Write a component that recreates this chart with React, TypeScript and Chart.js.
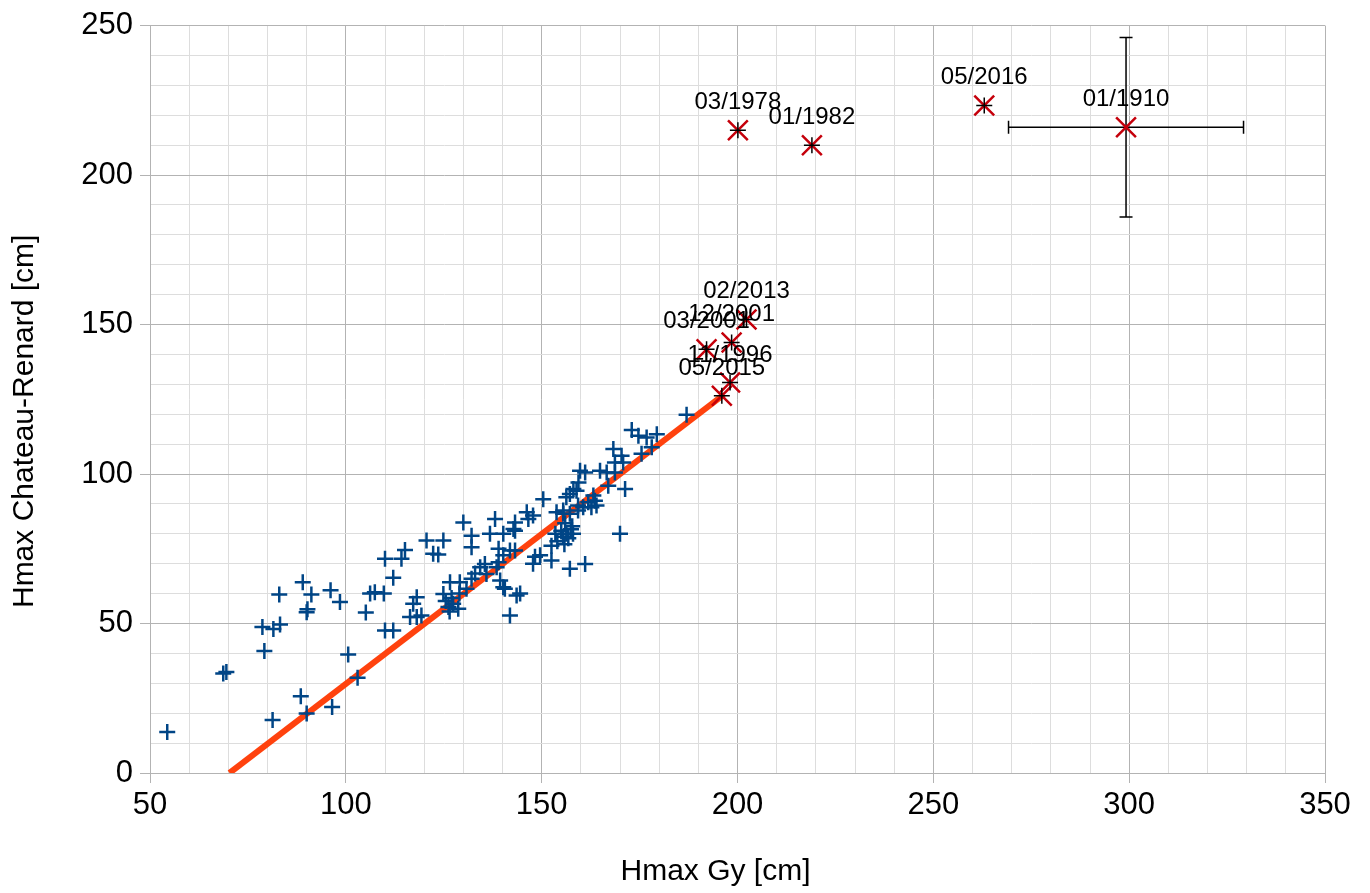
import React, { useEffect, useRef } from "react";
import { Chart, registerables } from "chart.js";

Chart.register(...registerables);

// Blue series: Hmax Gy vs Hmax Chateau-Renard
const gyValues = [
  54.4, 68.7, 69.5, 79.2, 78.7, 81.5, 83.2, 83.0, 81.3, 89.0, 91.2, 90.0, 90.2, 88.5, 90.0,
  96.1, 98.5, 96.5, 100.6, 103.0, 105.1, 106.2, 107.4, 109.7, 110.0, 112.1, 112.1, 110.0, 114.2,
  115.1, 120.6, 124.9, 122.3, 123.6, 130.0, 132.1, 132.1, 138.1, 136.8, 140.2, 139.0, 118.1,
  117.2, 116.4, 118.1, 119.3, 124.9, 126.6, 129.1, 126.2, 127.4, 128.7, 130.8, 132.1, 134.3,
  135.5, 135.9, 138.5, 139.4, 140.6, 139.0, 150.4, 146.2, 147.8, 143.2, 143.2, 141.9, 143.2,
  148.3, 149.6, 152.5, 157.2, 161.1, 141.9, 143.6, 144.5, 140.2, 133.0, 125.5, 127.0, 126.5,
  129.0, 187.0, 173.0, 174.7, 176.8, 179.4, 178.1, 175.5, 168.3, 170.4, 168.7, 170.8, 164.9,
  166.6, 168.7, 167.0, 171.3, 170.0, 159.8, 161.1, 159.4, 158.1, 158.9, 157.2, 156.3, 163.2,
  163.6, 164.0, 162.7, 161.9, 160.6, 159.3, 157.2, 155.5, 146.6, 142.8, 153.5, 155.0, 156.3,
  157.5, 155.5, 156.8, 158.0, 154.0, 155.8, 157.8, 152.5, 156.0, 147.8, 140.2, 153.8, 155.5,
  159.3,
];
const crValues = [
  13.7, 33.3, 33.8, 40.8, 48.8, 48.2, 49.7, 59.7, 17.7, 63.8, 59.7, 53.8, 54.8, 25.7, 19.9,
  61.1, 57.2, 22.1, 39.6, 31.9, 53.7, 60.0, 60.5, 60.0, 47.7, 47.7, 65.3, 71.7, 71.7,
  74.6, 77.8, 77.8, 73.3, 73.1, 83.8, 79.4, 75.5, 85.0, 80.0, 80.0, 75.0, 58.8,
  56.6, 52.2, 52.2, 52.7, 59.9, 63.8, 63.8, 55.5, 56.6, 54.9, 61.6, 65.0, 68.8,
  69.9, 66.6, 68.8, 64.4, 61.6, 70.5, 91.6, 87.2, 86.1, 83.8, 81.0, 74.4, 74.4,
  72.3, 72.8, 71.1, 68.3, 69.9, 52.7, 59.4, 60.0, 62.1, 66.7, 57.5, 58.5, 54.0,
  60.0, 119.8, 114.7, 112.8, 112.2, 113.3, 109.0, 106.8, 108.4, 106.1, 103.9, 103.9, 101.1,
  100.5, 100.5, 96.1, 95.0, 80.0, 101.1, 100.5, 97.2, 95.0, 94.4, 93.3, 92.2, 92.8,
  91.1, 89.5, 88.9, 90.6, 88.9, 87.8, 86.7, 87.8, 85.0, 81.6, 80.0, 81.0, 80.0,
  81.5, 79.0, 78.5, 80.0, 77.5, 76.5, 82.5, 76.0, 83.5, 70.0, 72.8, 87.2, 86.7,
  89.5,
];

// Named flood events
const eventLabels = ["03/1978", "01/1982", "05/2016", "01/1910", "02/2013", "12/2001", "03/2001", "11/1996", "05/2015"];
const eventGy = [200.1, 219.0, 263.0, 299.2, 202.3, 198.5, 192.1, 198.1, 196.0];
const eventCr = [215.0, 210.0, 223.3, 216.0, 151.7, 144.0, 141.7, 130.6, 126.2];
const eventErrGy = [0, 0, 0, 30, 0, 0, 0, 0, 0];
const eventErrCr = [0, 0, 0, 30, 0, 0, 0, 0, 0];

// Regression line
const fitGy = [70.3, 196.5];
const fitCr = [0, 126.6];

const xTicks = [50, 100, 150, 200, 250, 300, 350];
const yTicks = [0, 50, 100, 150, 200, 250];
const xTitle = "Hmax Gy [cm]";
const yTitle = "Hmax Chateau-Renard [cm]";

const FONT = "'Liberation Sans', Arial, sans-serif";
const MAJOR = "#b3b3b3";
const MINOR = "#dddddd";

const annotPlugin = {
  id: "annot",
  beforeDatasetsDraw(chart: any) {
    const { ctx, scales } = chart;
    const x = scales.x, y = scales.y;
    ctx.save();
    ctx.strokeStyle = "#000000";
    ctx.lineWidth = 1.5;
    eventLabels.forEach((_, i) => {
      const px = x.getPixelForValue(eventGy[i]);
      const py = y.getPixelForValue(eventCr[i]);
      const cap = 6.5;
      if (eventErrGy[i] > 0) {
        const x1 = x.getPixelForValue(eventGy[i] - eventErrGy[i]);
        const x2 = x.getPixelForValue(eventGy[i] + eventErrGy[i]);
        ctx.beginPath();
        ctx.moveTo(x1, py); ctx.lineTo(x2, py);
        ctx.moveTo(x1, py - cap); ctx.lineTo(x1, py + cap);
        ctx.moveTo(x2, py - cap); ctx.lineTo(x2, py + cap);
        ctx.stroke();
      }
      if (eventErrCr[i] > 0) {
        const y1 = y.getPixelForValue(eventCr[i] - eventErrCr[i]);
        const y2 = y.getPixelForValue(eventCr[i] + eventErrCr[i]);
        ctx.beginPath();
        ctx.moveTo(px, y1); ctx.lineTo(px, y2);
        ctx.moveTo(px - cap, y1); ctx.lineTo(px + cap, y1);
        ctx.moveTo(px - cap, y2); ctx.lineTo(px + cap, y2);
        ctx.stroke();
      }
    });
    ctx.restore();
  },
  afterDatasetsDraw(chart: any) {
    const { ctx, scales, chartArea } = chart;
    const x = scales.x, y = scales.y;
    ctx.save();
    ctx.fillStyle = "#000000";
    ctx.font = `24px ${FONT}`;
    ctx.textAlign = "center";
    ctx.textBaseline = "alphabetic";
    eventLabels.forEach((lab, i) => {
      const px = x.getPixelForValue(eventGy[i]);
      const py = y.getPixelForValue(eventCr[i]);
      ctx.fillText(lab, px, py - 21);
    });
    // axis titles (centred on the whole diagram, like the original)
    ctx.font = `30px ${FONT}`;
    ctx.textBaseline = "middle";
    const cx = (chartArea.left + chartArea.right) / 2 - 22;
    ctx.fillText(xTitle, cx, 872);
    const cy = (chartArea.top + chartArea.bottom) / 2 + 22;
    ctx.translate(25, cy);
    ctx.rotate(-Math.PI / 2);
    ctx.fillText(yTitle, 0, 0);
    ctx.restore();
  },
};

export default function App() {
  const ref = useRef<HTMLCanvasElement | null>(null);
  useEffect(() => {
    if (!ref.current) return;
    const isMajorX = (v: number) => xTicks.includes(v);
    const isMajorY = (v: number) => yTicks.includes(v);
    const chart = new Chart(ref.current, {
      type: "scatter",
      data: {
        datasets: [
          {
            label: "black",
            data: eventGy.map((g, i) => ({ x: g, y: eventCr[i] })).filter((_, i) => eventErrGy[i] === 0),
            pointStyle: "cross",
            pointRadius: 8,
            borderColor: "#000000",
            backgroundColor: "#000000",
            borderWidth: 1.5,
            order: 1,
          },
          {
            label: "events",
            data: eventGy.map((g, i) => ({ x: g, y: eventCr[i] })),
            pointStyle: "crossRot",
            pointRadius: 14,
            borderColor: "#c5000b",
            backgroundColor: "#c5000b",
            borderWidth: 2.5,
            order: 2,
          },
          {
            label: "data",
            data: gyValues.map((g, i) => ({ x: g, y: crValues[i] })),
            pointStyle: "cross",
            pointRadius: 8,
            borderColor: "#004586",
            backgroundColor: "#004586",
            borderWidth: 2.5,
            order: 3,
          },
          {
            label: "fit",
            type: "line",
            data: fitGy.map((g, i) => ({ x: g, y: fitCr[i] })),
            borderColor: "#ff420e",
            backgroundColor: "#ff420e",
            borderWidth: 6,
            pointRadius: 0,
            showLine: true,
            fill: false,
            order: 4,
          } as any,
        ],
      },
      options: {
        animation: false,
        responsive: true,
        maintainAspectRatio: false,
        layout: { padding: { left: 0, top: 24, right: 45, bottom: 0 } },
        plugins: { legend: { display: false }, tooltip: { enabled: false } },
        scales: {
          x: {
            type: "linear",
            min: 50,
            max: 350,
            afterFit: (s: any) => { s.height = 120; },
            ticks: {
              stepSize: 10,
              autoSkip: false,
              maxRotation: 0,
              padding: 4,
              color: "#000000",
              font: { family: FONT, size: 31 },
              callback: (v: any) => (isMajorX(Number(v)) ? String(v) : ""),
            },
            grid: {
              color: (c: any) => (isMajorX(c.tick?.value) ? MAJOR : MINOR),
              tickColor: (c: any) => (isMajorX(c.tick?.value) ? MAJOR : "rgba(0,0,0,0)"),
              tickLength: 10,
              lineWidth: 1,
            },
            border: { color: MAJOR },
            title: { display: false },
          },
          y: {
            type: "linear",
            min: 0,
            max: 250,
            afterFit: (s: any) => { s.width = 150; },
            ticks: {
              stepSize: 10,
              autoSkip: false,
              padding: 7,
              color: "#000000",
              font: { family: FONT, size: 31 },
              callback: (v: any) => (isMajorY(Number(v)) ? String(v) : ""),
            },
            grid: {
              color: (c: any) => (isMajorY(c.tick?.value) ? MAJOR : MINOR),
              tickColor: (c: any) => (isMajorY(c.tick?.value) ? MAJOR : "rgba(0,0,0,0)"),
              tickLength: 10,
              lineWidth: 1,
            },
            border: { color: MAJOR },
            title: { display: false },
          },
        },
      },
      plugins: [annotPlugin],
    });
    return () => chart.destroy();
  }, []);
  return (
    <div style={{ position: "fixed", left: 0, top: 0, width: 1370, height: 893, background: "#ffffff" }}>
      <canvas ref={ref} />
    </div>
  );
}
